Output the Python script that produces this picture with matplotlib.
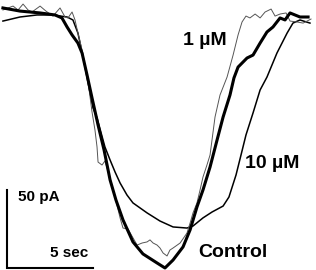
import numpy as np
import matplotlib.pyplot as plt

# whole-cell current traces, time in s, current in pA (baseline ~0)
t_ctrl = [0.17, 1.16, 2.33, 3.20, 3.60, 3.90, 4.19, 4.53, 4.77, 5.06, 5.35, 5.70, 6.05, 6.40,
          6.74, 7.15, 7.73, 8.31, 9.13, 9.59, 10.06, 10.64, 11.05, 11.45, 11.80, 12.21, 12.62,
          12.97, 13.37, 13.60, 13.84, 14.36, 14.71, 15.12, 15.52, 15.87, 16.28, 16.57, 16.86,
          17.15, 17.44, 17.91]
i_ctrl = [2.6, 0.6, -0.6, -1.9, -3.8, -9.6, -14.7, -19.9, -26.3, -40.4, -55.1, -72.4, -88.5,
          -107.7, -120.5, -133.3, -147.4, -155.1, -160.9, -164.1, -159.0, -150.6, -139.7,
          -125.0, -114.1, -99.4, -82.0, -67.3, -53.2, -42.3, -35.3, -29.5, -27.6, -19.9, -12.8,
          -9.6, -3.8, -5.1, -0.6, -1.9, -3.2, -3.2]

t_1um = [0.17, 0.47, 0.76, 1.05, 1.34, 1.63, 1.86, 2.33, 2.67, 3.08, 3.49, 3.78, 3.95, 4.19,
         4.36, 4.53, 4.77, 4.94, 5.12, 5.35, 5.52, 5.64, 5.70, 5.93, 6.10, 6.22, 6.51, 6.80,
         6.98, 7.15, 7.44, 7.67, 7.97, 8.26, 8.55, 8.72, 8.90, 9.13, 9.30, 9.48, 9.71, 9.88,
         10.06, 10.47, 10.87, 11.05, 11.22, 11.45, 11.63, 11.80, 12.03, 12.21, 12.50, 12.79,
         13.20, 13.55, 13.84, 14.07, 14.30, 14.53, 14.83, 15.12, 15.41, 15.76, 15.99, 16.28,
         16.63, 16.86, 17.27, 17.62, 18.08]
i_1um = [1.3, 2.6, 3.8, 1.3, 5.1, 1.3, 0.0, 3.8, 0.6, -2.6, 2.6, -3.2, -3.8, 0.0, -5.1, -13.5,
         -24.4, -34.0, -44.9, -64.1, -75.6, -86.5, -96.2, -98.1, -95.5, -100.0, -110.9, -123.7,
         -132.0, -138.5, -139.1, -143.6, -149.4, -148.1, -147.4, -146.1, -148.1, -149.4, -151.3,
         -154.5, -156.4, -152.6, -151.3, -148.1, -141.7, -135.3, -128.8, -122.4, -114.1, -105.8,
         -98.1, -91.7, -67.3, -53.2, -41.7, -27.6, -14.7, -6.4, -2.6, -3.8, -1.3, -3.8, 0.0,
         1.9, -2.6, -1.3, -0.6, -5.8, -6.4, -7.1, -4.5]

t_10um = [0.17, 1.16, 2.15, 3.08, 3.90, 4.24, 4.53, 4.83, 5.12, 5.41, 5.64, 6.10, 6.40, 6.69,
          6.98, 7.38, 7.73, 8.14, 8.55, 9.30, 10.06, 10.87, 11.22, 11.80, 12.33, 12.97, 13.31,
          13.72, 14.01, 14.30, 14.71, 15.12, 15.52, 16.10, 16.69, 17.03, 17.44, 18.02]
i_10um = [-5.8, -3.2, -1.9, -1.9, -3.2, -5.1, -13.5, -28.8, -45.5, -61.5, -67.9, -86.5, -94.9,
          -102.6, -109.6, -117.3, -122.4, -125.6, -128.8, -134.0, -137.8, -138.5, -137.2,
          -132.0, -128.2, -124.4, -118.6, -104.5, -91.7, -78.8, -64.7, -50.0, -41.7, -26.3,
          -13.5, -7.1, -5.1, -7.1]

# scale bar
sb_t0, sb_i0 = 0.41, -164.3
sb_dt, sb_di = 5, 50

fig = plt.figure(figsize=(3.16, 2.70), dpi=100)
ax = fig.add_axes([0, 0, 1, 1])

ax.plot(t_10um, i_10um, color='black', lw=1.1)
ax.plot(t_1um, i_1um, color='#555555', lw=0.7)
ax.plot(t_ctrl, i_ctrl, color='black', lw=2.2)

ax.plot([sb_t0, sb_t0, sb_t0 + sb_dt], [sb_i0 + sb_di, sb_i0, sb_i0], color='black', lw=1.5,
        solid_joinstyle='miter')

font = dict(family=['Liberation Sans', 'DejaVu Sans'], fontweight='bold')
ax.text(1.05, -121.2, '50 pA', fontsize=11, va='baseline', **font)
ax.text(2.91, -157.0, '5 sec', fontsize=11, va='baseline', **font)
ax.text(10.64, -21.2, '1 µM', fontsize=14, va='baseline', **font)
ax.text(14.24, -100.0, '10 µM', fontsize=14, va='baseline', **font)
ax.text(11.51, -157.0, 'Control', fontsize=14, va='baseline', **font)

ax.set_xlim(0, 18.37)
ax.set_ylim(-165.4, 7.7)
ax.axis('off')

plt.savefig('out.png', dpi=100)
